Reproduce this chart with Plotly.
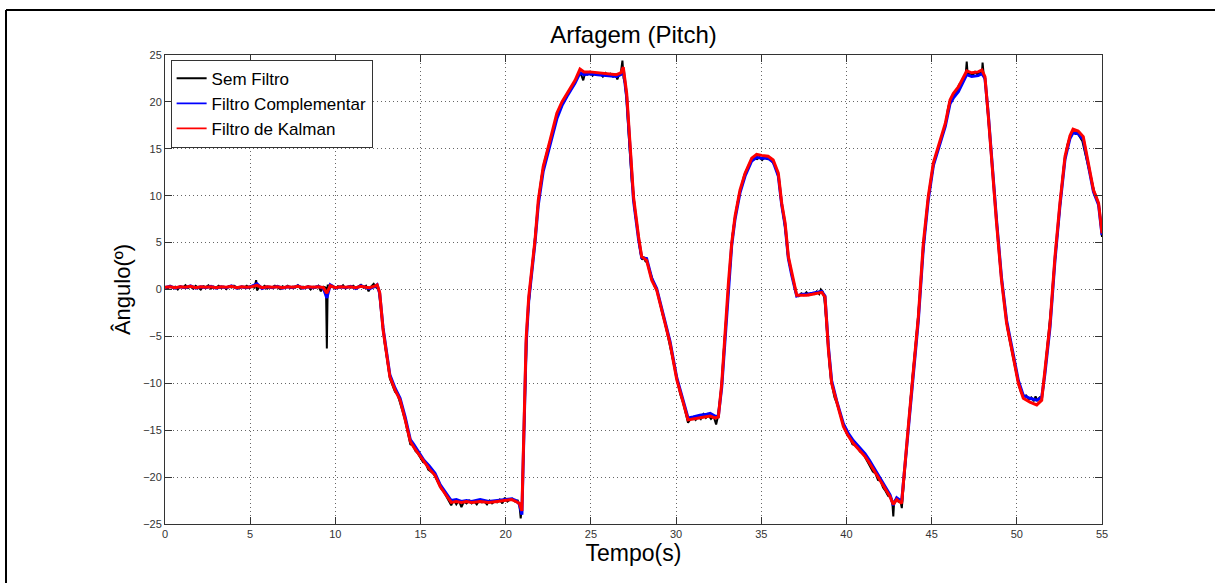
import plotly.graph_objects as go

# ---------------- data ----------------
t_raw = [0.00,0.15,0.30,0.45,0.60,0.75,0.90,1.05,1.20,1.35,1.50,1.65,1.80,1.95,2.10,2.25,2.40,2.55,2.70,2.85,
         3.00,3.15,3.30,3.45,3.60,3.75,3.90,4.05,4.20,4.35,4.50,4.65,4.80,4.95,5.10,5.25,5.35,5.40,5.55,5.70,
         5.85,6.00,6.15,6.30,6.45,6.60,6.75,6.90,7.05,7.20,7.35,7.50,7.65,7.80,7.95,8.10,8.25,8.40,8.55,8.70,
         8.85,9.00,9.15,9.30,9.45,9.50,9.55,9.70,9.85,10.00,10.15,10.30,10.45,10.60,10.75,10.90,11.05,11.20,11.35,11.50,
         11.65,11.80,11.95,12.10,12.25,12.40,12.55,
         12.7,12.8,12.9,13.0,13.1,13.2,13.35,13.5,13.65,13.8,13.95,14.1,14.25,14.4,14.55,14.7,14.85,15.0,15.15,15.3,
         15.45,15.6,15.75,15.9,16.05,16.2,16.35,16.5,16.65,16.8,16.95,17.1,17.25,17.4,17.55,17.7,17.85,18.0,18.15,18.3,
         18.45,18.6,18.75,18.9,19.05,19.2,19.35,19.5,19.65,19.8,19.95,20.1,20.25,20.4,20.55,20.7,20.8,20.88,20.95,21.05,
         21.15,21.25,21.35,21.45,21.55,21.65,21.75,21.85,21.95,22.1,22.25,22.4,22.55,22.7,22.85,23.0,23.15,23.3,23.45,23.6,
         23.75,23.9,24.05,24.2,24.3,24.45,24.55,24.65,24.8,24.95,25.1,25.25,25.4,25.55,25.7,25.85,26.0,26.15,26.3,26.45,
         26.55,26.65,26.75,26.85,26.92,27.0,27.1,27.2,27.3,27.4,27.5,27.6,27.7,27.8,27.9,28.0,28.1,28.2,28.3,28.45,
         28.6,28.75,28.9,29.05,29.2,29.35,29.5,29.65,29.8,29.95,30.1,30.25,30.4,30.55,30.7,30.85,31.0,31.15,31.3,31.45,
         31.6,31.75,31.9,32.05,32.2,32.35,32.45,32.6,32.7,32.8,32.9,33.0,33.1,33.2,33.3,33.4,33.5,33.6,33.7,33.8,
         33.9,34.0,34.15,34.3,34.45,34.6,34.75,34.9,35.05,35.2,35.35,35.5,35.65,35.8,35.95,36.05,36.15,36.25,36.35,36.45,
         36.55,36.65,36.75,36.85,36.95,37.05,37.2,37.35,37.5,37.65,37.8,37.95,38.1,38.25,38.4,38.5,38.6,38.7,38.8,38.9,
         39.0,39.1,39.2,39.3,39.45,39.6,39.75,39.9,40.05,40.2,40.35,40.5,40.65,40.8,40.95,41.1,41.25,41.4,41.55,41.7,
         41.85,42.0,42.15,42.3,42.45,42.6,42.7,42.75,42.8,42.95,43.05,43.15,43.25,43.35,43.45,43.55,43.65,43.75,43.85,43.95,
         44.05,44.15,44.25,44.35,44.45,44.55,44.65,44.75,44.85,44.95,45.1,45.25,45.4,45.55,45.7,45.85,45.95,46.05,46.2,46.35,
         46.5,46.6,46.7,46.8,46.9,47.0,47.06,47.12,47.25,47.4,47.55,47.7,47.85,47.95,47.99,48.05,48.15,48.25,48.35,48.45,
         48.55,48.65,48.75,48.85,48.95,49.05,49.15,49.25,49.35,49.45,49.6,49.75,49.9,50.0,50.1,50.25,50.4,50.55,50.7,50.85,
         51.0,51.1,51.2,51.35,51.45,51.55,51.65,51.75,51.85,51.95,52.05,52.15,52.25,52.35,52.45,52.55,52.65,52.75,52.85,52.95,
         53.05,53.15,53.25,53.35,53.45,53.55,53.65,53.75,53.85,53.95,54.05,54.15,54.25,54.35,54.45,54.55,54.65,54.75,54.85,54.95,
         55.0]
sem_filtro = [0.3,0.1,0.4,0.2,0.3,0.0,0.35,0.2,0.45,0.15,0.3,0.1,0.4,0.2,0.0,0.35,0.25,0.45,0.1,0.3,
              0.2,0.4,0.15,0.3,0.05,0.35,0.2,0.4,0.25,0.1,0.3,0.2,0.4,0.15,0.3,0.2,1.0,-0.1,0.3,0.2,
              0.4,0.1,0.3,0.25,0.4,0.2,0.05,0.35,0.2,0.4,0.15,0.3,0.2,0.45,0.1,0.3,0.2,0.35,0.0,0.3,
              0.2,0.4,-0.2,0.3,0.2,-6.3,0.5,0.2,0.4,0.1,0.35,0.2,0.45,0.1,0.3,0.2,0.4,0.15,0.3,0.5,
              0.2,0.4,-0.2,0.3,0.6,0.2,0.0,
              -2.5,-4.5,-5.8,-7.0,-8.4,-9.5,-10.2,-10.9,-11.2,-12.0,-13.0,-14.0,-15.3,-16.5,-16.6,-17.2,-17.5,-17.9,-18.4,-18.5,
              -19.2,-19.4,-19.6,-20.1,-20.7,-21.2,-21.5,-22.0,-22.4,-23.0,-22.4,-22.9,-22.5,-23.2,-22.6,-22.8,-22.5,-22.8,-22.6,-22.9,
              -22.5,-22.7,-22.6,-22.9,-22.5,-22.8,-22.6,-22.7,-22.4,-22.8,-22.2,-22.6,-22.4,-22.3,-22.6,-22.5,-22.9,-24.4,-23.0,-16.5,
              -8.5,-4.0,-1.5,0.5,2.0,4.2,5.8,8.5,10.0,12.0,13.5,14.5,15.5,16.5,17.8,18.5,19.2,19.8,20.4,20.8,
              21.2,21.6,22.0,22.6,23.2,22.8,22.3,23.0,22.9,23.2,22.8,23.1,22.9,23.0,22.7,23.1,22.9,23.0,22.7,22.9,
              22.4,22.9,23.0,24.4,22.5,22.0,20.0,17.0,14.0,11.5,10.2,8.0,6.9,5.3,4.0,3.2,3.4,3.0,2.9,2.0,
              1.0,0.3,-0.2,-1.5,-2.6,-3.6,-4.8,-5.9,-7.2,-8.6,-10.0,-11.2,-12.0,-13.0,-14.2,-13.8,-13.6,-13.9,-13.5,-13.8,
              -13.3,-13.7,-13.4,-13.8,-13.5,-14.4,-13.6,-11.5,-9.5,-6.5,-4.0,-1.0,1.5,3.5,5.6,7.0,8.3,9.2,10.0,10.9,
              11.5,12.2,12.8,13.4,13.8,14.0,13.9,14.1,13.8,14.1,13.9,14.0,13.6,13.2,12.4,11.5,9.7,8.6,7.2,5.8,
              3.8,2.8,1.9,1.0,0.2,-0.5,-0.7,-0.4,-0.6,-0.3,-0.6,-0.4,-0.5,-0.2,-0.5,0.0,-0.2,-0.9,-3.0,-5.8,
              -8.0,-9.8,-10.8,-11.5,-12.2,-13.2,-14.2,-14.9,-15.5,-15.8,-16.5,-16.6,-16.9,-17.3,-17.4,-17.9,-18.3,-18.9,-19.4,-19.6,
              -20.3,-20.4,-21.1,-21.5,-22.0,-22.1,-22.9,-24.2,-22.6,-22.2,-22.6,-22.4,-23.3,-21.0,-18.5,-16.0,-14.2,-12.0,-9.8,-8.2,
              -6.0,-4.0,-2.2,0.2,3.0,5.3,7.2,9.0,10.3,11.6,13.2,14.3,15.3,16.0,16.9,18.0,19.2,20.0,20.2,20.8,
              21.2,21.8,21.7,22.3,22.6,22.9,24.3,22.8,23.1,22.8,23.2,22.9,23.2,23.0,24.2,23.0,22.2,20.0,17.5,15.0,
              12.5,10.3,8.2,6.4,4.3,2.0,0.4,-1.3,-3.0,-4.2,-5.6,-7.0,-8.2,-9.2,-10.1,-11.0,-11.4,-11.3,-11.7,-11.5,
              -11.9,-11.4,-11.8,-11.5,-11.6,-10.5,-8.6,-6.8,-5.0,-3.4,-1.2,1.4,3.5,5.4,7.4,9.5,11.2,13.0,14.3,15.3,
              15.9,16.3,16.8,16.7,16.6,16.7,16.4,16.2,15.8,15.0,14.2,13.4,12.6,11.8,11.0,10.4,10.0,9.4,8.5,6.8,
              5.6]

t_filt = [0.0,0.3,0.6,0.9,1.2,1.5,1.8,2.1,2.4,2.7,3.0,3.3,3.6,3.9,4.2,4.5,4.8,5.1,5.4,5.7,
          6.0,6.3,6.6,6.9,7.2,7.5,7.8,8.1,8.4,8.7,9.0,9.3,9.5,9.7,10.0,10.3,10.6,10.9,11.2,11.5,
          11.8,12.0,12.3,12.45,12.6,
          12.8,13.0,13.2,13.5,13.8,14.1,14.4,14.6,14.9,15.2,15.5,15.85,16.15,16.45,16.8,
          17.1,17.4,17.7,18.0,18.5,19.0,19.5,20.0,20.35,20.6,20.8,20.95,
          21.05,21.2,21.35,21.5,21.72,21.91,22.2,22.6,23.0,23.3,23.6,24.07,24.36,
          24.6,24.95,25.4,25.9,26.5,26.75,26.9,
          27.1,27.3,27.5,27.8,27.98,28.27,28.57,28.86,29.25,29.64,30.04,30.4,30.7,
          31.0,31.4,31.8,32.0,32.28,32.48,
          32.68,32.87,33.07,33.26,33.46,33.75,34.05,34.44,34.73,
          35.03,35.4,35.7,36.0,36.2,36.4,36.59,36.79,37.08,
          37.4,37.67,38.0,38.3,38.55,38.74,
          38.94,39.13,39.43,39.82,40.1,40.4,40.75,41.09,41.35,41.58,41.85,42.07,42.3,42.56,42.75,42.95,43.24,
          43.44,43.63,43.93,44.22,44.51,44.8,45.1,45.5,45.8,46.08,46.27,46.57,46.86,47.06,
          47.35,47.73,47.95,48.13,48.33,48.52,48.81,49.1,49.4,49.79,50.09,50.38,50.77,51.17,51.46,
          51.65,51.95,52.24,52.53,52.83,53.12,53.3,53.6,53.9,54.2,54.5,54.8,55.0]

filtro_complementar = [0.2,0.35,0.15,0.3,0.2,0.4,0.15,0.3,0.2,0.35,0.15,0.3,0.2,0.4,0.15,0.3,0.2,0.35,0.6,0.1,
                       0.3,0.2,0.35,0.15,0.3,0.2,0.4,0.15,0.3,0.2,0.35,0.1,-0.9,0.5,0.15,0.3,0.2,0.35,0.1,0.4,
                       0.2,0.1,0.3,0.5,-0.4,
                       -4.1,-6.6,-9.1,-10.5,-11.6,-13.6,-16.0,-16.5,-17.4,-18.2,-18.8,-19.6,-20.8,-21.6,-22.5,
                       -22.4,-22.6,-22.5,-22.6,-22.4,-22.6,-22.5,-22.4,-22.3,-22.5,-22.9,-24.0,
                       -16.5,-5.8,-1.2,1.2,5.0,9.0,12.6,15.4,18.2,19.6,20.6,22.0,23.1,
                       22.9,23.0,22.9,22.8,22.7,22.9,23.5,
                       20.5,14.4,9.5,5.3,3.4,3.3,1.2,0.1,-2.7,-5.5,-9.4,-11.9,-13.7,
                       -13.6,-13.4,-13.3,-13.2,-13.5,-13.5,
                       -10.4,-5.1,0.3,4.6,7.5,10.3,12.1,13.7,14.1,
                       14.0,14.0,13.6,12.1,9.0,6.8,3.3,1.5,-0.7,
                       -0.5,-0.5,-0.4,-0.3,-0.2,-0.7,
                       -6.1,-9.7,-11.9,-14.3,-15.3,-16.1,-16.8,-17.5,-18.2,-18.9,-19.8,-20.5,-21.2,-21.9,-23.0,-22.2,-22.6,
                       -18.8,-15.2,-9.1,-3.3,4.4,9.5,13.2,15.6,17.4,19.8,20.4,21.1,22.2,22.9,
                       22.7,22.8,23.0,22.5,18.6,13.8,7.4,1.3,-3.3,-6.9,-9.7,-11.3,-11.6,-11.8,-11.5,
                       -9.0,-4.0,3.1,8.9,13.9,16.1,16.7,16.6,16.0,13.2,10.4,9.0,5.8]

filtro_kalman = [0.25,0.3,0.2,0.3,0.25,0.35,0.2,0.3,0.25,0.3,0.2,0.3,0.25,0.35,0.2,0.3,0.25,0.3,0.45,0.2,
                 0.3,0.25,0.3,0.2,0.3,0.25,0.35,0.2,0.3,0.25,0.3,0.2,-0.4,0.4,0.2,0.3,0.25,0.3,0.2,0.35,
                 0.25,0.2,0.35,0.5,-0.3,
                 -4.3,-6.8,-9.3,-10.7,-11.8,-13.9,-16.2,-16.8,-17.6,-18.4,-19.1,-19.8,-21.0,-21.8,-22.7,
                 -22.6,-22.7,-22.6,-22.7,-22.6,-22.7,-22.6,-22.5,-22.4,-22.6,-22.8,-23.6,
                 -15.7,-5.2,-0.8,1.5,5.3,9.5,13.1,15.9,18.8,20.0,20.9,22.3,23.5,
                 23.2,23.2,23.1,23.05,22.9,23.1,23.7,
                 20.9,14.9,9.9,5.6,3.5,3.1,1.0,-0.05,-2.9,-5.7,-9.6,-12.1,-13.9,
                 -13.8,-13.7,-13.6,-13.5,-13.7,-13.6,
                 -10.0,-4.7,0.66,4.9,7.8,10.6,12.4,14.0,14.4,
                 14.3,14.2,13.8,12.4,9.2,7.1,3.5,1.7,-0.6,
                 -0.6,-0.6,-0.5,-0.4,-0.3,-0.8,
                 -6.4,-10.0,-12.1,-14.6,-15.6,-16.4,-17.1,-17.8,-18.5,-19.2,-20.0,-20.7,-21.4,-22.1,-22.9,-22.4,-22.8,
                 -18.2,-14.6,-8.6,-2.9,4.9,9.9,13.5,15.9,17.7,20.2,20.9,21.6,22.7,23.3,
                 23.1,23.2,23.4,22.7,18.4,13.5,7.1,1.0,-3.6,-7.2,-10.0,-11.6,-12.0,-12.3,-11.8,
                 -8.6,-3.6,3.5,9.2,14.2,16.4,17.1,16.9,16.3,13.5,10.6,9.2,6.0]

assert len(t_raw) == len(sem_filtro), (len(t_raw), len(sem_filtro))
assert len(t_filt) == len(filtro_complementar) == len(filtro_kalman), (len(t_filt), len(filtro_complementar), len(filtro_kalman))

series_names = ["Sem Filtro", "Filtro Complementar", "Filtro de Kalman"]
series_colors = ["#000000", "#0000ff", "#ff0000"]

x_ticks = [0, 5, 10, 15, 20, 25, 30, 35, 40, 45, 50, 55]
y_ticks = [-25, -20, -15, -10, -5, 0, 5, 10, 15, 20, 25]

# ---------------- figure ----------------
FONT = "Liberation Sans, Arial, sans-serif"
fig = go.Figure()
fig.add_trace(go.Scatter(x=t_raw, y=sem_filtro, mode="lines", name=series_names[0], showlegend=False,
                         line=dict(color=series_colors[0], width=2)))
fig.add_trace(go.Scatter(x=t_filt, y=filtro_complementar, mode="lines", name=series_names[1], showlegend=False,
                         line=dict(color=series_colors[1], width=3)))
fig.add_trace(go.Scatter(x=t_filt, y=filtro_kalman, mode="lines", name=series_names[2], showlegend=False,
                         line=dict(color=series_colors[2], width=3)))
# legend entries with the thin MATLAB-style line samples
for nm, col in zip(series_names, series_colors):
    fig.add_trace(go.Scatter(x=[None], y=[None], mode="lines", name=nm,
                             line=dict(color=col, width=1.8)))

axis_common = dict(showgrid=True, gridcolor="#666666", griddash="1px,3px", gridwidth=1,
                   showline=True, linecolor="#333333", linewidth=1, mirror="ticks",
                   ticks="inside", ticklen=7, tickcolor="#333333", zeroline=False,
                   tickfont=dict(family=FONT, size=11, color="#333333"))

fig.update_layout(
    width=1215, height=583,
    margin=dict(l=165, r=113, t=55, b=59),
    paper_bgcolor="white", plot_bgcolor="white",
    title=dict(text="Arfagem (Pitch)", x=(165 + 1102) / 2 / 1215, xanchor="center",
               y=1 - 35 / 583, yanchor="middle",
               font=dict(family=FONT, size=24, color="#000000")),
    xaxis=dict(range=[0, 55], tickvals=x_ticks, **axis_common,
               title=dict(text="Tempo(s)", font=dict(family=FONT, size=23, color="#000000"), standoff=4)),
    yaxis=dict(range=[-25, 25], tickvals=y_ticks, **axis_common,
               title=dict(text="Ângulo(º)", font=dict(family=FONT, size=22, color="#000000"), standoff=6)),
    legend=dict(x=0.006, y=0.99, xanchor="left", yanchor="top",
                bgcolor="white", bordercolor="#333333", borderwidth=1,
                font=dict(family=FONT, size=17, color="#000000"),
                tracegroupgap=0, itemwidth=30),
    showlegend=True,
)

# outer frame of the exported figure (top and left edges visible)
frame_left = (6 - 165) / 937
frame_top = (524 - 10) / 469
fig.add_shape(type="line", xref="paper", yref="paper", x0=frame_left, x1=1.3, y0=frame_top, y1=frame_top,
              line=dict(color="black", width=2), layer="above")
fig.add_shape(type="line", xref="paper", yref="paper", x0=frame_left, x1=frame_left, y0=frame_top, y1=-0.3,
              line=dict(color="black", width=2), layer="above")

fig.write_html("out.html")
